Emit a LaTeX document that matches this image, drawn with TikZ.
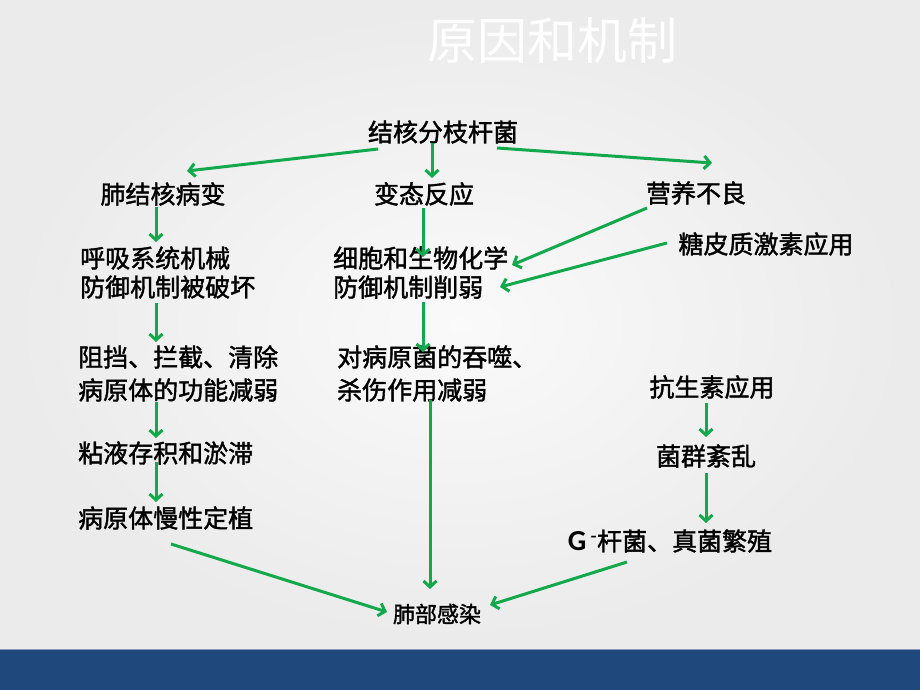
\documentclass[tikz,border=0pt]{standalone}
\usepackage{fontspec}
\setmainfont{Noto Sans CJK SC}[FakeBold=1.6]
\newfontfamily\titlefont{Noto Sans CJK SC}
\newfontfamily\gfont{Carlito}
\usetikzlibrary{arrows.meta}
\definecolor{arrgreen}{HTML}{12A84C}
\definecolor{barblue}{HTML}{1F497D}
\begin{document}
\begin{tikzpicture}[x=1pt, y=-1pt,
  txt/.style={inner sep=0pt, font=\fontsize{25}{29}\selectfont},
  txtl/.style={txt, anchor=west, align=left},
  arr/.style={draw=arrgreen, line width=3pt,
    -{Straight Barb[length=6pt,width=13pt]}}]
  \useasboundingbox (0,0) rectangle (920,690);
  \shade[inner color=white!98!black, outer color=black!8] (0,0) rectangle (920,650);
  \fill[barblue] (0,650) rectangle (920,690);
  \draw[barblue!55!white, line width=1.2pt] (0,649.5) -- (920,649.5);
  \node[inner sep=0pt, text=white, font=\titlefont\fontsize{50}{50}\selectfont] (title) at (552,41) {原因和机制};
  % first rows
  \node[txt] (mtb) at (443,132) {结核分枝杆菌};
  \node[txt] (fjh) at (163,194) {肺结核病变};
  \node[txt] (btfy) at (424,194) {变态反应};
  \node[txt] (yybl) at (696,193) {营养不良};
  \node[txtl] (hx) at (80,272.5) {呼吸系统机械\\防御机制被破坏};
  \node[txtl] (xb) at (333,272.5) {细胞和生物化学\\防御机制削弱};
  \node[txt] (tpz) at (766,244) {糖皮质激素应用};
  % middle rows
  \node[txtl, font=\fontsize{25}{33}\selectfont] (zd) at (78,373.5) {阻挡、拦截、清除\\病原体的功能减弱};
  \node[txtl, font=\fontsize{25}{33}\selectfont] (dbyj) at (337,373.5) {对病原菌的吞噬、\\杀伤作用减弱};
  \node[txt] (ksy) at (712,387) {抗生素应用};
  \node[txtl] (ny) at (78,453) {粘液存积和淤滞};
  \node[txt] (jq) at (706,456) {菌群紊乱};
  \node[txtl] (byt) at (78,518) {病原体慢性定植};
  \node[txt] (gsj) at (670,541) {{\gfont\bfseries\fontsize{29}{29}\selectfont G}\,\textsuperscript{-}杆菌、真菌繁殖};
  \node[inner sep=0pt, font=\fontsize{22}{22}\selectfont] (fbgr) at (437,614) {肺部感染};
  % connectors
  \draw[arr] ([shift={(-65,17)}]mtb.center) -- ([shift={(24,-23)}]fjh.center);
  \draw[arr] ([shift={(-11,11)}]mtb.center) -- ([shift={(8,-16)}]btfy.center);
  \draw[arr] ([shift={(54,16)}]mtb.center) -- ([shift={(16,-30)}]yybl.center);
  \draw[arr] ([shift={(-7,13)}]fjh.center) -- ([shift={(76,-30.5)}]hx.west);
  \draw[arr] ([shift={(-1,14)}]btfy.center) -- ([shift={(90,-15.5)}]xb.west);
  \draw[arr] ([shift={(-49,15)}]yybl.center) -- ([shift={(179,-7.5)}]xb.west);
  \draw[arr] ([shift={(-99,-1)}]tpz.center) -- ([shift={(167,14.5)}]xb.west);
  \draw[arr] ([shift={(76,30.5)}]hx.west) -- ([shift={(78,-31.5)}]zd.west);
  \draw[arr] ([shift={(90,29.5)}]xb.west) -- ([shift={(86,-21.5)}]dbyj.west);
  \draw[arr] ([shift={(78,28.5)}]zd.west) -- ([shift={(78,-15)}]ny.west);
  \draw[arr] ([shift={(78,9)}]ny.west) -- ([shift={(78,-16)}]byt.west);
  \draw[arr] ([shift={(-6,16)}]ksy.center) -- ([shift={(0,-19)}]jq.center);
  \draw[arr] ([shift={(0,17)}]jq.center) -- ([shift={(36,-18)}]gsj.center);
  \draw[arr] ([shift={(93,26)}]byt.west) -- ([shift={(-50,-2)}]fbgr.center);
  \draw[arr] ([shift={(93,26.5)}]dbyj.west) -- ([shift={(-7,-25)}]fbgr.center);
  \draw[arr] ([shift={(-43,21)}]gsj.center) -- ([shift={(53,-9)}]fbgr.center);
\end{tikzpicture}
\end{document}
